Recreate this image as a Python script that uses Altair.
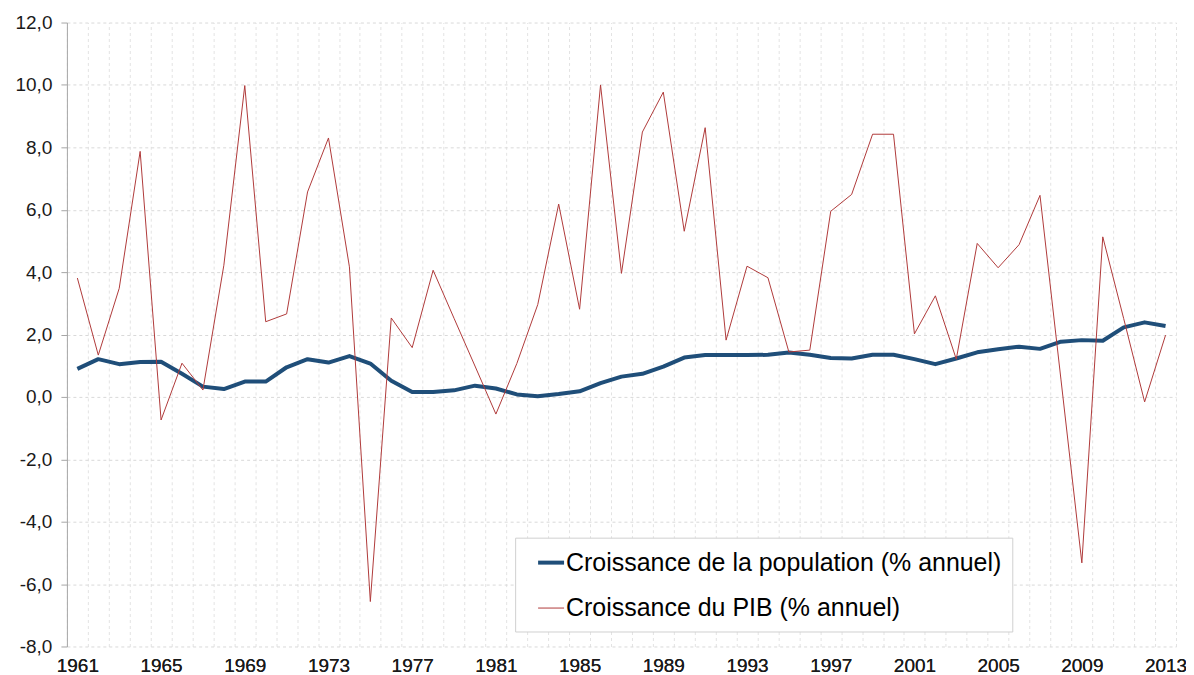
import altair as alt
import pandas as pd

years = list(range(1961, 2014))
pop = [0.90, 1.21, 1.05, 1.12, 1.13, 0.74, 0.33, 0.25, 0.49, 0.49,
       0.95, 1.21, 1.10, 1.31, 1.07, 0.52, 0.16, 0.16, 0.21, 0.36,
       0.27, 0.08, 0.02, 0.09, 0.18, 0.44, 0.65, 0.74, 0.97, 1.26,
       1.34, 1.34, 1.34, 1.35, 1.42, 1.35, 1.25, 1.23, 1.35, 1.35,
       1.21, 1.05, 1.23, 1.43, 1.53, 1.61, 1.54, 1.77, 1.82, 1.80,
       2.23, 2.39, 2.27]
gdp = [3.81, 1.34, 3.48, 7.87, -0.74, 1.08, 0.22, 4.22, 9.98, 2.41,
       2.66, 6.57, 8.30, 4.17, -6.56, 2.53, 1.58, 4.06, 2.52, 0.99,
       -0.55, 1.07, 2.96, 6.18, 2.81, 10.0, 3.96, 8.49, 9.77, 5.31,
       8.63, 1.82, 4.19, 3.82, 1.44, 1.50, 5.95, 6.49, 8.42, 8.42,
       2.02, 3.24, 1.21, 4.92, 4.14, 4.88, 6.46, 0.57, -5.32, 5.13,
       2.51, -0.16, 1.98]
series_names = ["Croissance de la population (% annuel)", "Croissance du PIB (% annuel)"]
colors = ["#1f4e79", "#b03a3a"]
widths = [4, 1]
x_labels = list(range(1961, 2014, 4))
y_ticks = list(range(-8, 13, 2))
grid_vals = [y + 0.5 for y in range(1960, 2014)]

df_pop = pd.DataFrame({"year": years, "series": series_names[0], "value": pop})
df_gdp = pd.DataFrame({"year": years, "series": series_names[1], "value": gdp})
df_all = pd.concat([df_pop, df_gdp])

FONT = "Liberation Sans"

x_scale = alt.Scale(domain=[1960.5, 2013.5], nice=False, zero=False)
y_enc = alt.Y(
    "value:Q",
    scale=alt.Scale(domain=[-8, 12], nice=False, zero=False),
    axis=alt.Axis(
        values=y_ticks,
        labelExpr="(datum.value < 0 ? '-' : '') + replace(format(abs(datum.value), '.1f'), '.', ',')",
        title=None, grid=True, gridDash=[3, 3], gridColor="#d9d9d9",
        domainColor="#a6a6a6", tickColor="#a6a6a6", tickSize=6,
        labelPadding=9, labelFontSize=19, labelFont=FONT, labelColor="#1a1a1a",
    ),
)

legend = alt.Legend(
    title=None, orient="none", legendX=449, legendY=516,
    symbolType="stroke", symbolSize=676, symbolOffset=11,
    labelFontSize=25, labelFont=FONT, labelColor="#000000", labelOffset=0,
    labelLimit=0, rowPadding=19, padding=10,
    strokeColor="#d0d0d0", fillColor="#ffffff",
)
color_enc = alt.Color("series:N", scale=alt.Scale(domain=series_names, range=colors), legend=legend)
width_enc = alt.StrokeWidth("series:N", scale=alt.Scale(domain=series_names, range=widths), legend=legend)

grid_layer = alt.Chart(df_all).mark_line(opacity=0).encode(
    x=alt.X("year:Q", scale=x_scale,
            axis=alt.Axis(orient="top", values=grid_vals, labels=False, ticks=False,
                          domain=False, grid=True, gridDash=[3, 3], gridColor="#e3e3e3",
                          title=None)),
    y=y_enc,
    detail="series:N",
)

x_main = alt.X("year:Q", scale=x_scale,
               axis=alt.Axis(values=x_labels, format="d", grid=False, ticks=False,
                             domain=False, labelPadding=10, labelFontSize=19,
                             labelFont=FONT, labelColor="#1a1a1a", labelOverlap=False,
                             title=None))

pop_layer = alt.Chart(df_pop).mark_line(strokeJoin="round").encode(
    x=x_main, y=y_enc, color=color_enc, strokeWidth=width_enc)
gdp_layer = alt.Chart(df_gdp).mark_line(strokeJoin="miter").encode(
    x=x_main, y=y_enc, color=color_enc, strokeWidth=width_enc)

chart = alt.layer(grid_layer, pop_layer, gdp_layer).resolve_axis(
    x="independent"
).properties(
    width=1111, height=625,
    padding={"left": 59, "top": 14, "right": 10, "bottom": 28},
    autosize=alt.AutoSizeParams(type="none"),
    background="#ffffff",
).configure_view(stroke="transparent")

chart.save("out.html", embed_options={"renderer": "svg", "actions": False})
